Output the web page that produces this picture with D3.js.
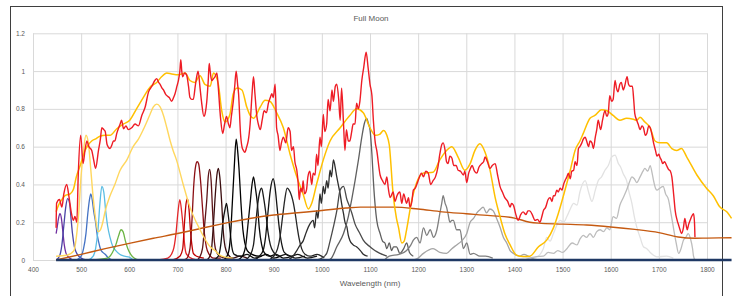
<!DOCTYPE html>
<html lang="en">
<head>
<meta charset="UTF-8">
<title>Full Moon</title>
<script src="https://d3js.org/d3.v7.min.js"></script>
<style>
  body { margin: 0; background: #fff; }
  svg { display: block; font-family: "Liberation Sans", Arial, sans-serif; }
</style>
</head>
<body>
<svg id="chart"></svg>
<script>
// all series are [wavelength (nm), relative value]
const xTickValues = [400, 500, 600, 700, 800, 900, 1000, 1100, 1200, 1300, 1400, 1500, 1600, 1700, 1800];
const yTickValues = [0, 0.2, 0.4, 0.6, 0.8, 1, 1.2];
const yTickLabels = ["0", "0.2", "0.4", "0.6", "0.8", "1", "1.2"];

const moonSpectrum = [[448,0.17],[449,0.30],[455,0.32],[460,0.28],[464,0.35],[470,0.40],[475,0.33],[480,0.245],[484,0.21],[487,0.23],[491,0.20],[494,0.45],[499,0.66],[504,0.51],[508,0.58],[512,0.63],[516,0.60],[522,0.58],[526,0.53],[530,0.485],[536,0.58],[540,0.64],[543,0.70],[547,0.69],[550,0.68],[554,0.61],[560,0.59],[564,0.61],[567,0.63],[570,0.63],[574,0.67],[581,0.72],[584,0.74],[588,0.695],[593,0.71],[598,0.69],[605,0.70],[612,0.72],[619,0.71],[626,0.765],[633,0.81],[640,0.89],[647,0.92],[653,0.95],[657,0.96],[661,0.94],[664,0.93],[668,0.91],[671,0.90],[675,0.88],[678,0.87],[683,0.86],[688,0.84],[692,0.86],[695,0.88],[699,0.92],[702,0.95],[705,1.0],[707,1.06],[709,1.0],[711,0.97],[715,0.99],[719,0.98],[723,0.92],[726,0.86],[730,0.85],[733,0.85],[737,0.92],[740,0.97],[743,1.0],[747,0.91],[750,0.84],[755,0.76],[758,0.78],[761,0.84],[764,0.95],[766,1.04],[768,1.0],[771,0.95],[775,0.96],[778,0.97],[782,0.99],[785,0.91],[788,0.80],[790,0.74],[794,0.67],[798,0.72],[802,0.76],[806,0.72],[809,0.70],[812,0.76],[816,0.84],[819,0.92],[822,1.0],[825,0.93],[827,0.88],[831,0.67],[834,0.60],[837,0.58],[840,0.57],[844,0.60],[847,0.63],[851,0.72],[855,0.88],[858,0.97],[861,0.88],[865,0.76],[868,0.72],[872,0.69],[876,0.74],[880,0.79],[885,0.78],[889,0.83],[893,0.86],[896,0.88],[899,0.86],[903,0.93],[906,0.70],[909,0.66],[913,0.58],[916,0.62],[920,0.65],[925,0.62],[930,0.70],[934,0.68],[937,0.58],[941,0.60],[944,0.52],[948,0.475],[951,0.40],[953,0.32],[956,0.38],[959,0.36],[961,0.42],[964,0.35],[968,0.37],[971,0.44],[975,0.47],[979,0.40],[982,0.46],[986,0.45],[989,0.56],[992,0.50],[996,0.65],[999,0.60],[1003,0.77],[1006,0.68],[1010,0.72],[1013,0.85],[1017,0.79],[1021,0.90],[1024,0.84],[1028,0.92],[1031,0.93],[1035,0.85],[1038,0.74],[1041,0.91],[1045,0.72],[1048,0.58],[1051,0.69],[1055,0.63],[1058,0.63],[1062,0.68],[1065,0.72],[1069,0.72],[1072,0.83],[1076,0.80],[1079,0.84],[1083,0.95],[1087,1.02],[1092,1.10],[1096,1.02],[1100,0.93],[1104,0.87],[1107,0.74],[1111,0.62],[1114,0.58],[1121,0.45],[1126,0.42],[1131,0.40],[1135,0.44],[1138,0.38],[1142,0.33],[1148,0.36],[1152,0.31],[1156,0.34],[1162,0.36],[1166,0.30],[1170,0.35],[1176,0.30],[1180,0.33],[1183,0.28],[1187,0.31],[1190,0.37],[1194,0.38],[1200,0.42],[1207,0.46],[1211,0.44],[1216,0.47],[1221,0.46],[1226,0.40],[1231,0.42],[1236,0.44],[1241,0.49],[1245,0.56],[1249,0.61],[1252,0.62],[1256,0.58],[1259,0.52],[1262,0.51],[1266,0.55],[1270,0.54],[1274,0.50],[1279,0.50],[1283,0.475],[1288,0.47],[1294,0.45],[1297,0.47],[1301,0.41],[1305,0.46],[1308,0.48],[1312,0.50],[1317,0.47],[1322,0.46],[1326,0.49],[1332,0.51],[1336,0.52],[1339,0.545],[1344,0.52],[1349,0.485],[1354,0.50],[1360,0.51],[1365,0.45],[1370,0.39],[1375,0.36],[1380,0.33],[1386,0.31],[1391,0.28],[1394,0.30],[1398,0.29],[1403,0.24],[1408,0.21],[1413,0.24],[1418,0.255],[1424,0.24],[1428,0.26],[1432,0.26],[1437,0.24],[1443,0.21],[1448,0.215],[1453,0.20],[1457,0.23],[1460,0.26],[1465,0.28],[1470,0.32],[1474,0.33],[1478,0.31],[1481,0.34],[1484,0.34],[1488,0.37],[1491,0.36],[1495,0.38],[1499,0.37],[1502,0.40],[1505,0.42],[1509,0.44],[1512,0.46],[1516,0.43],[1519,0.47],[1523,0.475],[1526,0.52],[1530,0.50],[1533,0.59],[1536,0.60],[1540,0.62],[1543,0.64],[1547,0.65],[1550,0.63],[1554,0.60],[1557,0.63],[1561,0.62],[1564,0.59],[1568,0.65],[1571,0.69],[1574,0.74],[1579,0.69],[1583,0.74],[1588,0.79],[1592,0.76],[1595,0.78],[1598,0.87],[1602,0.84],[1605,0.85],[1609,0.95],[1612,0.91],[1615,0.89],[1619,0.93],[1622,0.94],[1626,0.90],[1629,0.92],[1634,0.97],[1637,0.93],[1640,0.92],[1645,0.92],[1648,0.84],[1650,0.775],[1654,0.74],[1657,0.72],[1661,0.69],[1665,0.71],[1668,0.70],[1672,0.66],[1675,0.67],[1679,0.71],[1682,0.70],[1686,0.66],[1689,0.62],[1693,0.58],[1696,0.55],[1700,0.56],[1702,0.545],[1705,0.53],[1708,0.51],[1712,0.52],[1716,0.50],[1720,0.48],[1724,0.47],[1727,0.44],[1731,0.34],[1734,0.26],[1738,0.21],[1741,0.185],[1744,0.16],[1747,0.14],[1751,0.17],[1754,0.22],[1757,0.18],[1759,0.16],[1762,0.19],[1765,0.21],[1768,0.23],[1772,0.245],[1774,0.20],[1775,0.12]];

const goldCurve = [[448,0.255],[453,0.29],[460,0.32],[466,0.34],[477,0.35],[484,0.375],[490,0.44],[498,0.50],[508,0.58],[515,0.61],[522,0.63],[529,0.64],[539,0.655],[550,0.66],[560,0.66],[574,0.695],[588,0.72],[601,0.74],[615,0.80],[629,0.86],[643,0.915],[657,0.94],[667,0.97],[678,0.99],[688,0.985],[702,0.98],[716,0.99],[726,0.95],[736,0.94],[747,0.975],[757,0.93],[768,0.92],[775,0.99],[785,0.93],[792,0.79],[799,0.73],[809,0.77],[816,0.88],[824,0.91],[834,0.90],[844,0.81],[851,0.765],[858,0.75],[872,0.81],[882,0.845],[892,0.84],[906,0.78],[920,0.70],[934,0.56],[948,0.44],[961,0.35],[972,0.27],[979,0.30],[989,0.40],[1003,0.53],[1017,0.63],[1038,0.70],[1058,0.765],[1072,0.80],[1086,0.78],[1100,0.70],[1111,0.66],[1120,0.665],[1128,0.685],[1135,0.66],[1140,0.61],[1148,0.35],[1155,0.22],[1159,0.175],[1166,0.09],[1171,0.10],[1176,0.16],[1187,0.32],[1197,0.41],[1211,0.46],[1231,0.465],[1245,0.53],[1259,0.58],[1270,0.60],[1283,0.545],[1297,0.475],[1308,0.51],[1318,0.58],[1328,0.615],[1339,0.57],[1349,0.48],[1360,0.33],[1370,0.23],[1380,0.14],[1391,0.08],[1404,0.026],[1418,0.018],[1432,0.02],[1450,0.07],[1467,0.105],[1481,0.17],[1491,0.245],[1505,0.37],[1516,0.475],[1526,0.58],[1536,0.63],[1543,0.67],[1557,0.75],[1567,0.765],[1581,0.795],[1592,0.79],[1605,0.765],[1619,0.74],[1633,0.75],[1647,0.745],[1654,0.74],[1661,0.755],[1671,0.73],[1682,0.70],[1692,0.63],[1702,0.62],[1716,0.62],[1727,0.59],[1737,0.58],[1747,0.59],[1758,0.545],[1779,0.45],[1799,0.38],[1813,0.34],[1827,0.28],[1841,0.255],[1851,0.22]];

const paleGoldCurve = [[448,0.02],[470,0.025],[485,0.05],[490,0.12],[495,0.25],[500,0.45],[505,0.58],[510,0.66],[515,0.62],[520,0.48],[525,0.33],[530,0.22],[535,0.15],[540,0.16],[545,0.20],[550,0.26],[560,0.34],[570,0.40],[581,0.475],[595,0.53],[608,0.60],[619,0.64],[629,0.69],[643,0.77],[650,0.81],[657,0.825],[664,0.81],[671,0.765],[678,0.70],[685,0.63],[691,0.58],[698,0.53],[712,0.40],[726,0.28],[747,0.16],[768,0.07],[778,0.05],[788,0.026],[800,0.015],[815,0.01]];

const brownCurve = [[448,0.0],[500,0.03],[550,0.06],[600,0.088],[650,0.115],[700,0.14],[750,0.168],[800,0.195],[850,0.22],[900,0.238],[950,0.25],[1000,0.262],[1050,0.275],[1080,0.28],[1150,0.28],[1200,0.27],[1250,0.255],[1300,0.245],[1350,0.235],[1400,0.222],[1432,0.2],[1450,0.195],[1500,0.19],[1550,0.185],[1600,0.175],[1650,0.162],[1700,0.145],[1740,0.122],[1775,0.115],[1800,0.116],[1851,0.118]];

const baseline = [[448,0],[1851,0]];

const filter455 = [[448,0.14],[450,0.17],[453,0.22],[456,0.245],[459,0.22],[462,0.15],[465,0.08],[468,0.04],[472,0.02],[476,0.01],[482,0.0]];
const filter472 = [[448,0.0],[455,0.02],[460,0.08],[464,0.18],[468,0.28],[472,0.325],[476,0.30],[479,0.22],[482,0.14],[486,0.07],[490,0.04],[495,0.02],[500,0.01],[510,0.0]];
const filter520 = [[490,0.0],[500,0.02],[505,0.06],[510,0.14],[514,0.25],[518,0.33],[520,0.35],[523,0.32],[526,0.26],[530,0.20],[533,0.14],[536,0.10],[540,0.06],[545,0.04],[550,0.03],[555,0.015],[565,0.0]];
const filter543 = [[515,0.0],[525,0.02],[530,0.06],[535,0.16],[539,0.30],[543,0.39],[547,0.36],[551,0.26],[555,0.18],[560,0.12],[566,0.07],[572,0.05],[580,0.03],[590,0.02],[600,0.015],[608,0.0]];
const filter583 = [[520,0.0],[555,0.01],[565,0.04],[572,0.08],[578,0.13],[583,0.16],[587,0.15],[592,0.10],[597,0.06],[603,0.03],[610,0.01],[620,0.0],[660,0.0]];
const filter705 = [[660,0.0],[680,0.01],[691,0.05],[697,0.14],[701,0.25],[705,0.32],[709,0.25],[712,0.17],[715,0.08],[718,0.035],[725,0.015],[740,0.0]];
const filter721 = [[690,0.0],[705,0.02],[711,0.06],[715,0.21],[718,0.30],[721,0.325],[724,0.27],[727,0.16],[730,0.08],[733,0.035],[740,0.02],[755,0.01]];
const filter741 = [[712,0.0],[720,0.01],[726,0.06],[730,0.2],[734,0.4],[738,0.5],[741,0.52],[744,0.51],[748,0.42],[752,0.28],[756,0.14],[760,0.07],[766,0.03],[775,0.01],[790,0.01]];
const filter767 = [[740,0.0],[745,0.01],[752,0.06],[757,0.2],[761,0.32],[764,0.44],[767,0.48],[770,0.42],[773,0.26],[776,0.12],[780,0.05],[788,0.02],[800,0.01],[815,0.01]];
const filter785 = [[760,0.0],[765,0.01],[770,0.04],[774,0.16],[778,0.32],[782,0.45],[785,0.485],[788,0.44],[792,0.30],[795,0.16],[799,0.07],[805,0.03],[815,0.01],[830,0.02],[845,0.01]];
const filter802 = [[775,0.0],[785,0.02],[790,0.08],[795,0.21],[799,0.27],[802,0.30],[805,0.25],[809,0.16],[813,0.07],[818,0.03],[830,0.02],[845,0.03],[860,0.01],[875,0.02]];
const filter822 = [[795,0.0],[800,0.01],[806,0.04],[810,0.12],[814,0.30],[818,0.49],[822,0.64],[825,0.58],[828,0.48],[832,0.30],[836,0.16],[840,0.09],[845,0.05],[855,0.03],[870,0.02],[885,0.03],[900,0.01],[915,0.02]];
const filter858 = [[825,0.0],[835,0.02],[842,0.08],[847,0.20],[851,0.30],[855,0.40],[858,0.44],[862,0.38],[866,0.30],[870,0.17],[875,0.08],[880,0.04],[890,0.02],[905,0.03],[920,0.01],[940,0.02]];
const filter875 = [[840,0.0],[850,0.02],[858,0.08],[863,0.20],[867,0.30],[871,0.36],[875,0.38],[879,0.33],[884,0.24],[888,0.15],[893,0.08],[900,0.04],[910,0.02],[925,0.03],[945,0.01],[965,0.02]];
const filter899 = [[860,0.0],[870,0.02],[878,0.05],[883,0.12],[888,0.25],[893,0.37],[899,0.43],[903,0.38],[907,0.28],[912,0.16],[917,0.08],[922,0.04],[935,0.02],[950,0.03],[970,0.01],[990,0.02]];
const filter928 = [[890,0.0],[900,0.02],[908,0.06],[913,0.12],[918,0.22],[923,0.32],[928,0.38],[932,0.37],[937,0.34],[941,0.30],[945,0.24],[949,0.17],[953,0.11],[958,0.06],[965,0.03],[975,0.02],[990,0.03],[1005,0.01]];
const filter1024 = [[930,0.0],[940,0.02],[948,0.05],[955,0.08],[961,0.10],[968,0.15],[975,0.19],[982,0.21],[985,0.17],[989,0.26],[992,0.22],[996,0.35],[999,0.30],[1003,0.39],[1006,0.35],[1010,0.42],[1013,0.38],[1017,0.475],[1020,0.44],[1024,0.53],[1027,0.50],[1031,0.44],[1034,0.40],[1038,0.35],[1041,0.30],[1045,0.245],[1048,0.20],[1052,0.175],[1055,0.13],[1058,0.105],[1065,0.08],[1072,0.07],[1080,0.05],[1086,0.03],[1095,0.02]];
const filter1045 = [[990,0.0],[1000,0.01],[1010,0.035],[1017,0.10],[1024,0.175],[1031,0.26],[1038,0.37],[1045,0.39],[1052,0.32],[1058,0.28],[1062,0.25],[1069,0.19],[1079,0.14],[1086,0.105],[1100,0.07],[1110,0.05],[1121,0.035],[1135,0.02]];
const filter1093 = [[1015,0.0],[1020,0.01],[1031,0.07],[1045,0.14],[1055,0.23],[1062,0.32],[1069,0.42],[1076,0.53],[1083,0.65],[1088,0.72],[1093,0.75],[1097,0.72],[1100,0.69],[1104,0.56],[1107,0.42],[1111,0.28],[1114,0.21],[1121,0.14],[1126,0.10],[1131,0.09],[1135,0.06],[1140,0.09],[1145,0.05],[1149,0.07],[1155,0.07],[1162,0.035],[1170,0.06],[1176,0.09],[1182,0.04],[1190,0.02]];
const filter1252 = [[1130,0.0],[1140,0.02],[1160,0.03],[1176,0.05],[1185,0.08],[1190,0.105],[1197,0.12],[1204,0.09],[1211,0.17],[1218,0.13],[1225,0.16],[1232,0.12],[1239,0.16],[1245,0.245],[1249,0.30],[1252,0.34],[1256,0.30],[1259,0.28],[1262,0.245],[1266,0.20],[1270,0.21],[1273,0.21],[1280,0.16],[1287,0.16],[1294,0.06],[1301,0.09],[1308,0.03],[1315,0.035],[1328,0.02],[1340,0.02],[1355,0.01]];
const filter1335 = [[1190,0.0],[1200,0.01],[1211,0.035],[1231,0.06],[1245,0.04],[1259,0.035],[1270,0.06],[1280,0.08],[1290,0.10],[1301,0.14],[1308,0.20],[1315,0.22],[1322,0.25],[1328,0.265],[1335,0.28],[1342,0.25],[1349,0.27],[1356,0.26],[1363,0.22],[1370,0.175],[1377,0.12],[1384,0.09],[1391,0.05],[1398,0.035],[1410,0.02],[1420,0.03],[1435,0.01],[1450,0.0]];
const filter1609 = [[1400,0.0],[1420,0.01],[1446,0.017],[1460,0.06],[1467,0.12],[1474,0.10],[1481,0.14],[1495,0.21],[1502,0.20],[1509,0.23],[1516,0.27],[1523,0.30],[1530,0.29],[1536,0.36],[1547,0.42],[1554,0.36],[1561,0.31],[1568,0.37],[1574,0.42],[1581,0.44],[1588,0.475],[1595,0.50],[1602,0.545],[1609,0.555],[1616,0.51],[1621,0.49],[1626,0.457],[1633,0.42],[1638,0.36],[1644,0.30],[1649,0.23],[1654,0.175],[1661,0.12],[1668,0.07],[1675,0.06],[1682,0.04],[1696,0.017],[1716,0.02],[1730,0.01]];
const filter1682 = [[1420,0.0],[1446,0.018],[1460,0.02],[1470,0.04],[1481,0.035],[1490,0.05],[1500,0.04],[1509,0.06],[1520,0.09],[1530,0.08],[1536,0.11],[1543,0.13],[1550,0.12],[1557,0.14],[1564,0.12],[1571,0.15],[1578,0.16],[1585,0.15],[1592,0.17],[1598,0.16],[1605,0.23],[1612,0.22],[1619,0.29],[1626,0.33],[1633,0.37],[1640,0.42],[1644,0.44],[1649,0.43],[1654,0.41],[1661,0.44],[1667,0.47],[1671,0.485],[1677,0.47],[1682,0.50],[1686,0.46],[1689,0.42],[1693,0.38],[1696,0.37],[1702,0.38],[1709,0.39],[1714,0.35],[1720,0.32],[1725,0.25],[1730,0.175],[1736,0.09],[1741,0.035],[1746,0.06],[1751,0.105],[1756,0.12],[1761,0.14],[1766,0.11],[1770,0.06],[1772,0.02],[1775,0.0]];

// drawing order and colours
const filterSeries = [filter455, filter472, filter520, filter543, filter583, filter705, filter721, filter741, filter767, filter785, filter802, filter822, filter858, filter875, filter899, filter928, filter1024, filter1045, filter1093, filter1252, filter1335, filter1609, filter1682];
const filterColors = ["#7030a0", "#4b45a6", "#4472c4", "#5bbde3", "#6cb444", "#e42629", "#c00000", "#8b0f14", "#5c1518", "#3a0d0f", "#111111", "#000000", "#0a0a0a", "#1a1a1a", "#141414", "#262626", "#2e2e2e", "#4a4a4a", "#606060", "#7f7f7f", "#a5a5a5", "#e2e2e2", "#bdbdbd"];

const width = 733, height = 296;
const margin = { left: 33, right: 26, top: 33.3, bottom: 36 };

const svg = d3.select("#chart").attr("width", width).attr("height", height);

const x = d3.scaleLinear().domain([400, 1800]).range([margin.left, width - margin.right]);
const y = d3.scaleLinear().domain([0, 1.2]).range([height - margin.bottom, margin.top]);

// outer chart frame
svg.append("rect")
    .attr("x", 10.5).attr("y", 6.5)
    .attr("width", 712).attr("height", 300)
    .attr("fill", "none")
    .attr("stroke", "#3f3f3f")
    .attr("stroke-width", 1);

// title
svg.append("text")
    .attr("x", 371).attr("y", 21)
    .attr("text-anchor", "middle")
    .attr("font-size", "8px")
    .attr("fill", "#595959")
    .text("Full Moon");

// gridlines
svg.append("g")
    .attr("transform", `translate(0,${y(0)})`)
    .call(d3.axisBottom(x).tickValues(xTickValues).tickSize(-(y(0) - y(1.2))).tickFormat(""))
    .call(g => g.select(".domain").remove())
    .call(g => g.selectAll("line").attr("stroke", "#d9d9d9"));

svg.append("g")
    .attr("transform", `translate(${x(400)},0)`)
    .call(d3.axisLeft(y).tickValues(yTickValues).tickSize(-(x(1800) - x(400))).tickFormat(""))
    .call(g => g.select(".domain").remove())
    .call(g => g.selectAll("line").attr("stroke", "#d9d9d9"));

// tick labels
svg.append("g")
    .attr("transform", `translate(0,${y(0) + 7})`)
    .call(d3.axisBottom(x).tickValues(xTickValues).tickSize(0).tickPadding(0).tickFormat(d3.format("d")))
    .call(g => g.select(".domain").remove())
    .call(g => g.selectAll("text").attr("font-size", "6.5px").attr("fill", "#595959")
        .attr("font-family", "Liberation Sans, Arial, sans-serif"));

svg.append("g")
    .attr("transform", `translate(${x(400) - 8},0)`)
    .call(d3.axisLeft(y).tickValues(yTickValues).tickSize(0).tickPadding(0)
        .tickFormat((d, i) => yTickLabels[i]))
    .call(g => g.select(".domain").remove())
    .call(g => g.selectAll("text").attr("font-size", "6.5px").attr("fill", "#595959")
        .attr("font-family", "Liberation Sans, Arial, sans-serif"));

// axis title
svg.append("text")
    .attr("x", 370).attr("y", 286)
    .attr("text-anchor", "middle")
    .attr("font-size", "8px")
    .attr("fill", "#595959")
    .text("Wavelength (nm)");

const line = d3.line()
    .x(d => x(d[0]))
    .y(d => y(d[1]))
    .curve(d3.curveMonotoneX);

function drawSeries(data, color, w) {
    svg.append("path")
        .datum(data)
        .attr("d", line)
        .attr("fill", "none")
        .attr("stroke", color)
        .attr("stroke-width", w)
        .attr("stroke-linejoin", "round");
}

filterSeries.forEach((s, i) => drawSeries(s, filterColors[i], 1.3));
drawSeries(brownCurve, "#c55a11", 1.4);
drawSeries(paleGoldCurve, "#ffd75e", 1.4);
drawSeries(goldCurve, "#ffc000", 1.5);
drawSeries(moonSpectrum, "#ee1c25", 1.4);
drawSeries(baseline, "#1f3864", 2.5);
</script>
</body>
</html>
